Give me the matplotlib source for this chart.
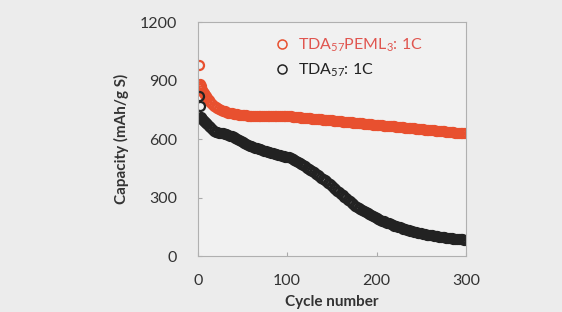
import numpy as np
import matplotlib
matplotlib.use("Agg")
import matplotlib.pyplot as plt

plt.rcParams["font.family"] = ["Lato", "DejaVu Sans"]
plt.rcParams["mathtext.default"] = "regular"

# cycles 1..10 individually, then every 2nd cycle up to 300
CYCLES = list(range(1, 11)) + list(range(12, 301, 2))

PEML_CAP = [
    980, 885, 872, 862, 852, 843, 835, 827, 820, 813,
    800, 790, 781, 772, 765, 759, 754, 749, 745, 742,
    739, 736, 734, 732, 730, 728, 727, 726, 724, 723,
    722, 722, 721, 721, 720, 720, 720, 720, 720, 720,
    720, 720, 720, 720, 720, 720, 720, 720, 719, 719,
    719, 719, 718, 718, 718, 717, 717, 716, 715, 714,
    713, 712, 711, 710, 709, 708, 707, 706, 705, 705,
    704, 703, 702, 701, 700, 699, 698, 697, 697, 696,
    695, 694, 693, 692, 691, 690, 689, 689, 688, 687,
    686, 685, 684, 683, 682, 681, 681, 680, 679, 678,
    677, 676, 675, 674, 673, 673, 672, 671, 670, 669,
    668, 667, 666, 665, 665, 664, 663, 662, 661, 660,
    659, 658, 657, 657, 656, 655, 654, 653, 652, 651,
    650, 649, 649, 648, 647, 646, 645, 644, 643, 642,
    641, 641, 640, 639, 638, 637, 636, 635, 634, 633,
    633, 632, 631, 630, 629,
]

TDA_CAP = [
    820, 770, 712, 706, 702, 698, 694, 690, 684, 678,
    668, 660, 651, 642, 638, 635, 632, 631, 630, 628,
    626, 622, 618, 614, 609, 604, 599, 595, 590, 585,
    581, 576, 571, 567, 563, 559, 556, 553, 550, 547,
    544, 541, 539, 536, 533, 530, 528, 525, 523, 521,
    518, 516, 514, 511, 508, 506, 502, 497, 492, 487,
    481, 476, 471, 465, 460, 454, 448, 442, 436, 430,
    423, 416, 409, 402, 396, 390, 383, 376, 368, 360,
    352, 344, 336, 328, 320, 312, 304, 296, 288, 281,
    273, 266, 259, 253, 247, 241, 235, 229, 224, 219,
    214, 209, 204, 199, 194, 190, 186, 182, 178, 175,
    171, 168, 164, 161, 157, 154, 151, 147, 144, 141,
    139, 136, 133, 131, 128, 126, 123, 121, 119, 117,
    115, 113, 111, 109, 107, 106, 104, 103, 101, 100,
    98, 97, 96, 94, 93, 92, 91, 90, 89, 88,
    87, 86, 86, 85, 84,
]

LABELS = ["TDA$_{57}$PEML$_{3}$: 1C", "TDA$_{57}$: 1C"]
RED = "#e8502f"
BLACK = "#222222"

fig = plt.figure(figsize=(5.62, 3.12), dpi=100, facecolor="#ececec")
ax = fig.add_axes([0.352, 0.179, 0.477, 0.750])
ax.set_facecolor("#f1f1f1")

ax.plot(CYCLES, PEML_CAP, "o", ms=6.5, mfc="none", mec=RED, mew=1.6, label=LABELS[0])
ax.plot(CYCLES, TDA_CAP, "o", ms=6.5, mfc="none", mec=BLACK, mew=1.6, label=LABELS[1])

ax.set_xlim(0, 300)
ax.set_ylim(0, 1200)
ax.set_xticks([0, 100, 200, 300])
ax.set_yticks([0, 300, 600, 900, 1200])
ax.tick_params(direction="in", length=3, color="#aaaaaa", labelsize=11.5,
               labelcolor="#333333", pad=13)
ax.tick_params(axis="y", pad=15)
for s in ax.spines.values():
    s.set_color("#b0b0b0")
    s.set_linewidth(0.8)

ax.set_xlabel("Cycle number", fontsize=11, fontweight="bold", color="#333333", labelpad=5)
ax.set_ylabel("Capacity (mAh/g S)", fontsize=11, fontweight="bold", color="#333333", labelpad=8)

leg = ax.legend(loc="upper left", bbox_to_anchor=(0.225, 1.0), frameon=False,
                numpoints=1, fontsize=11.5, handletextpad=0.4, labelspacing=0.45,
                handlelength=1.2)
leg.get_texts()[0].set_color("#e0554f")
leg.get_texts()[1].set_color("#222222")
for h in leg.legend_handles:
    h.set_markeredgewidth(1.1)

fig.savefig("out.png", dpi=100, facecolor=fig.get_facecolor())
